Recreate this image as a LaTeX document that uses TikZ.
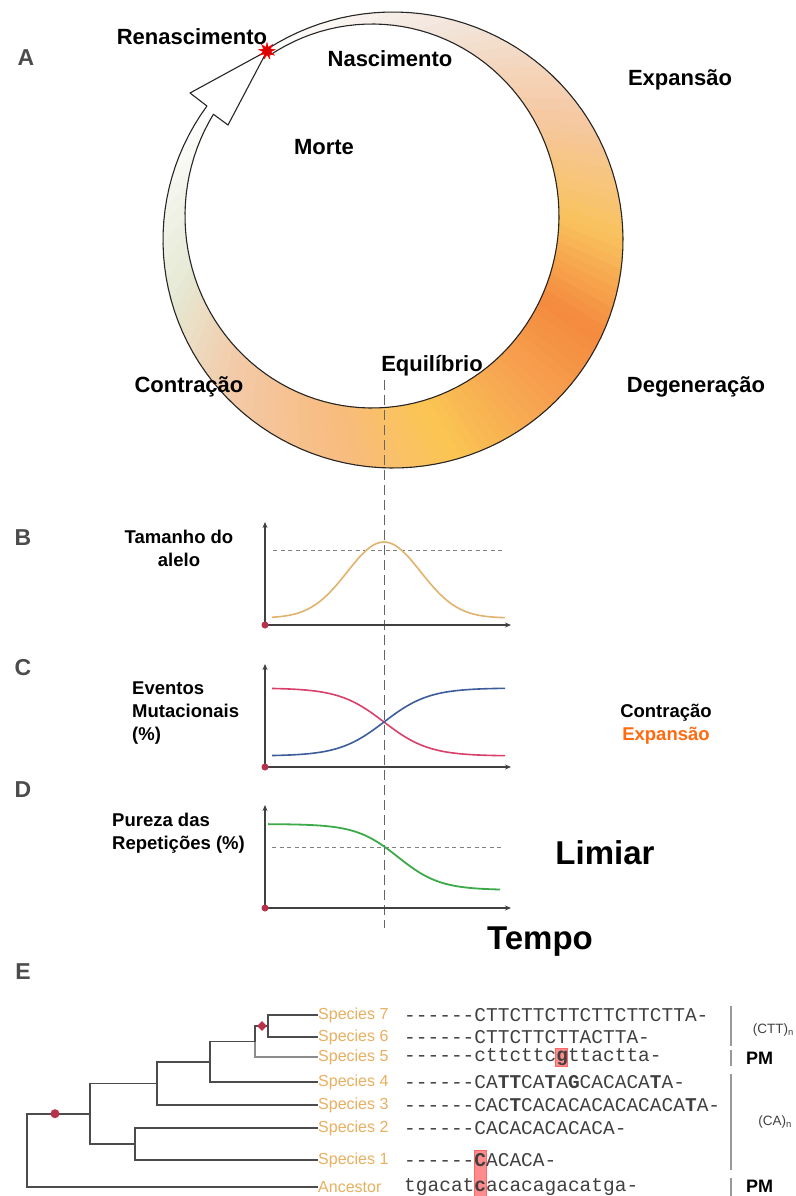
\documentclass[tikz,border=0pt]{standalone}
\usepackage{fontspec}
\setmainfont{Liberation Sans}
\setmonofont{Liberation Mono}
\usetikzlibrary{arrows.meta}
\usetikzlibrary{shapes.geometric}
\usetikzlibrary{positioning}

\definecolor{ringA}{HTML}{F2E4DA}
\definecolor{ringB}{HTML}{F6C8A0}
\definecolor{ringC}{HTML}{F9C25E}
\definecolor{ringD}{HTML}{F48A3E}
\definecolor{ringE}{HTML}{F7A552}
\definecolor{ringF}{HTML}{FBC653}
\definecolor{ringG}{HTML}{F8BB7C}
\definecolor{ringH}{HTML}{F3CAA8}
\definecolor{ringI}{HTML}{E6EAD6}
\definecolor{spec}{HTML}{E8B060}
\definecolor{mark}{HTML}{B8304A}
\definecolor{expcol}{HTML}{FF6A10}
\definecolor{sizecol}{HTML}{E2B36E}
\definecolor{contcol}{HTML}{D8406A}
\definecolor{expline}{HTML}{3C5D9A}
\definecolor{purecol}{HTML}{3DAA4A}

\begin{document}
\begin{tikzpicture}[x=1pt,y=-1pt,
  panel/.style={font=\fontsize{23}{25}\selectfont\bfseries, text=black!70},
  toplbl/.style={font=\fontsize{22}{24}\selectfont\bfseries},
  axlbl/.style={font=\fontsize{18.5}{23}\selectfont\bfseries, align=left, inner sep=0pt},
  huge/.style={font=\fontsize{33}{36}\selectfont\bfseries},
  axis/.style={line width=1.4pt, black!75, -{Stealth[length=6pt,width=5pt]}},
  guide/.style={gray, line width=1pt, dash pattern=on 4pt off 3.5pt},
  eqline/.style={black!60, line width=1pt, dash pattern=on 10pt off 5pt},
  origin/.style={circle, fill=mark, inner sep=0pt, minimum size=7pt},
  branch/.style={black!70, line width=1.6pt},
  splabel/.style={anchor=west, text=spec, inner sep=0pt, font=\fontsize{16}{18}\selectfont},
  seq/.style={anchor=west, inner sep=0pt, text=black!75, font=\ttfamily\fontsize{19.5}{21}\selectfont},
  bar/.style={black!40, line width=1.5pt},
  hilite/.style={fill=red!45, draw=red!60}]

  \fill[white] (0,0) rectangle (795,1196);
  \useasboundingbox (0,0) rectangle (795,1196);

  % anel: preenchimento por segmentos
  \foreach \ta/\tb/\ca/\cb in {237/290/white/ringA, 290/330/ringA/ringB,
      330/360/ringB/ringC, 360/385/ringC/ringD, 385/410/ringD/ringE,
      410/435/ringE/ringF, 435/460/ringF/ringG, 460/495/ringG/ringH,
      495/525/ringH/ringI, 525/573/ringI/white}{
    \foreach \s in {0,...,9}{
      \pgfmathsetmacro\tone{\ta+(\tb-\ta)*\s/10}
      \pgfmathsetmacro\ttwo{\ta+(\tb-\ta)*(\s+1)/10}
      \pgfmathsetmacro\pc{100-(\s+0.5)*10}
      \filldraw[fill=\ca!\pc!\cb, draw=\ca!\pc!\cb, line width=0.6pt]
        ({393+230*cos(\tone)},{240+228*sin(\tone)}) --
        ({393+230*cos(\ttwo)},{240+228*sin(\ttwo)}) --
        ({372+187*cos(\ttwo)},{216+192*sin(\ttwo)}) --
        ({372+187*cos(\tone)},{216+192*sin(\tone)}) -- cycle;
    }
  }

  % contorno do anel com a seta
  \draw[black!85, line width=1.1pt, line join=round]
    plot[domain=237:576, samples=120] ({393+230*cos(\x)},{240+228*sin(\x)})
    -- (190,93) -- (267,51) -- (228,125)
    -- plot[domain=572:237, samples=120] ({372+187*cos(\x)},{216+192*sin(\x)});

  \node[star, star points=9, star point ratio=2.2, fill=red!85!black, draw=red,
    minimum size=17pt, inner sep=0pt] (reborn) at (267,51) {};

  % linha de equilibrio
  \coordinate (eqtop) at (384,380);
  \coordinate (eqbot) at (384,928);
  \draw[eqline] (eqtop) -- (eqbot);

  % rotulos do ciclo
  \node[panel] (pA) at (26,58) {A};
  \node[toplbl] (renasc) at (192,37) {Renascimento};
  \node[toplbl] (nasc) at (390,59) {Nascimento};
  \node[toplbl] (expan) at (680,80) {Expansão};
  \node[toplbl] (morte) at (324,147) {Morte};
  \node[toplbl] (equil) at (432,366) {Equilíbrio};
  \node[toplbl] (contr) at (189,387) {Contração};
  \node[toplbl] (degen) at (696,387) {Degeneração};

  % B
  \node[panel] (pB) at (23,538) {B};
  \node[axlbl, align=center] (tamanho) at (179,548) {Tamanho do\\alelo};
  \coordinate (oB) at (265,625);
  \draw[axis] (oB) -- (265,522);
  \draw[axis] (oB) -- (511,625);
  \draw[guide] (273,550) -- (505,550);
  \draw[draw=sizecol, line width=1.6pt]
    plot[domain=272:505, samples=80] (\x,{618-76*exp(-((\x-384)/52)^2)});
  \node[origin] at (oB) {};

  % C
  \node[panel] (pC) at (23,668) {C};
  \node[axlbl, anchor=west] (eventos) at (132,713) {Eventos\\Mutacionais\\(\%)};
  \node[axlbl, align=center] (legenda) at (666,724) {Contração\\\textcolor{expcol}{Expansão}};
  \coordinate (oC) at (265,767);
  \draw[axis] (oC) -- (265,664);
  \draw[axis] (oC) -- (511,767);
  \draw[draw=contcol, line width=1.6pt]
    plot[domain=272:505, samples=80] (\x,{722-34*tanh((384-\x)/45)});
  \draw[draw=expline, line width=1.6pt]
    plot[domain=272:505, samples=80] (\x,{722+34*tanh((384-\x)/45)});
  \node[origin] at (oC) {};

  % D
  \node[panel] (pD) at (23,790) {D};
  \node[axlbl, anchor=west] (pureza) at (112,833) {Pureza das\\Repetições (\%)};
  \coordinate (oD) at (265,908);
  \draw[axis] (oD) -- (265,805);
  \draw[axis] (oD) -- (511,908);
  \draw[guide] (272,847) -- (502,847);
  \draw[draw=purecol, line width=1.8pt]
    plot[domain=268:500, samples=80] (\x,{857+33*tanh((\x-398)/42)});
  \node[origin] at (oD) {};
  \node[huge] (limiar) at (605,853) {Limiar};
  \node[huge] (tempo) at (540,942) {Tempo};

  % E: arvore
  \node[panel] (pE) at (23,972) {E};
  \node[splabel] (sp7) at (318,1015) {Species 7};
  \node[splabel] (sp6) at (318,1037) {Species 6};
  \node[splabel] (sp5) at (318,1057) {Species 5};
  \node[splabel] (sp4) at (318,1082) {Species 4};
  \node[splabel] (sp3) at (318,1105) {Species 3};
  \node[splabel] (sp2) at (318,1128) {Species 2};
  \node[splabel] (sp1) at (318,1160) {Species 1};
  \node[splabel] (anc) at (318,1187) {Ancestor};

  \coordinate (n76) at (268,1026);
  \coordinate (n765) at (255,1041.5);
  \coordinate (n7654) at (210,1061.75);
  \coordinate (n76543) at (157,1083.4);
  \coordinate (n21) at (135,1144);
  \coordinate (nin) at (90,1113.7);
  \coordinate (root) at (27,1150);

  \draw[branch] (n76) |- (sp7.west);
  \draw[branch] (n76) |- (sp6.west);
  \draw[branch] (n765) |- (n76);
  \draw[branch, black!45] (n765) |- (sp5.west);
  \draw[branch] (n7654) |- (n765);
  \draw[branch] (n7654) |- (sp4.west);
  \draw[branch] (n76543) |- (n7654);
  \draw[branch] (n76543) |- (sp3.west);
  \draw[branch] (n21) |- (sp2.west);
  \draw[branch] (n21) |- (sp1.west);
  \draw[branch] (nin) |- (n76543);
  \draw[branch] (nin) |- (n21);
  \draw[branch] (root) |- (nin);
  \draw[branch] (root) |- (anc.west);

  \node[diamond, fill=mark, inner sep=0pt, minimum size=10pt] (mut1) at (262,1026) {};
  \node[circle, fill=mark, inner sep=0pt, minimum size=9pt] (mut2) at (55,1113.7) {};

  % destaques
  \fill[hilite] (555,1048) rectangle (567,1066);
  \fill[hilite] (474,1150) rectangle (486,1196);

  % sequencias
  \node[seq] (q7) at (404,1015) {------CTTCTTCTTCTTCTTCTTA-};
  \node[seq] (q6) at (404,1037) {------CTTCTTCTTACTTA-};
  \node[seq] (q5) at (404,1057) {------cttcttc\textbf{g}ttactta-};
  \node[seq] (q4) at (404,1082) {------CA\textbf{TT}CA\textbf{T}A\textbf{G}CACACA\textbf{T}A-};
  \node[seq] (q3) at (404,1105) {------CAC\textbf{T}CACACACACACACA\textbf{T}A-};
  \node[seq] (q2) at (404,1128) {------CACACACACACA-};
  \node[seq] (q1) at (404,1160) {------\textbf{C}ACACA-};
  \node[seq] (q0) at (404,1187) {tgacat\textbf{c}acacagacatga-};

  % blocos
  \draw[bar] (731,1006) -- (731,1046);
  \draw[bar] (731,1050) -- (731,1066);
  \draw[bar] (731,1074) -- (731,1170);
  \draw[bar] (731,1178) -- (731,1196);
  \node[anchor=east, inner sep=0pt, text=black!75, font=\fontsize{13.5}{15}\selectfont] (ctt) at (794,1030) {(CTT)\textsubscript{n}};
  \node[anchor=west, inner sep=0pt, font=\fontsize{18}{20}\selectfont\bfseries] (pm1) at (746,1058) {PM};
  \node[anchor=east, inner sep=0pt, text=black!75, font=\fontsize{13.5}{15}\selectfont] (ca) at (792,1122) {(CA)\textsubscript{n}};
  \node[anchor=west, inner sep=0pt, font=\fontsize{18}{20}\selectfont\bfseries] (pm2) at (746,1186) {PM};
\end{tikzpicture}
\end{document}
